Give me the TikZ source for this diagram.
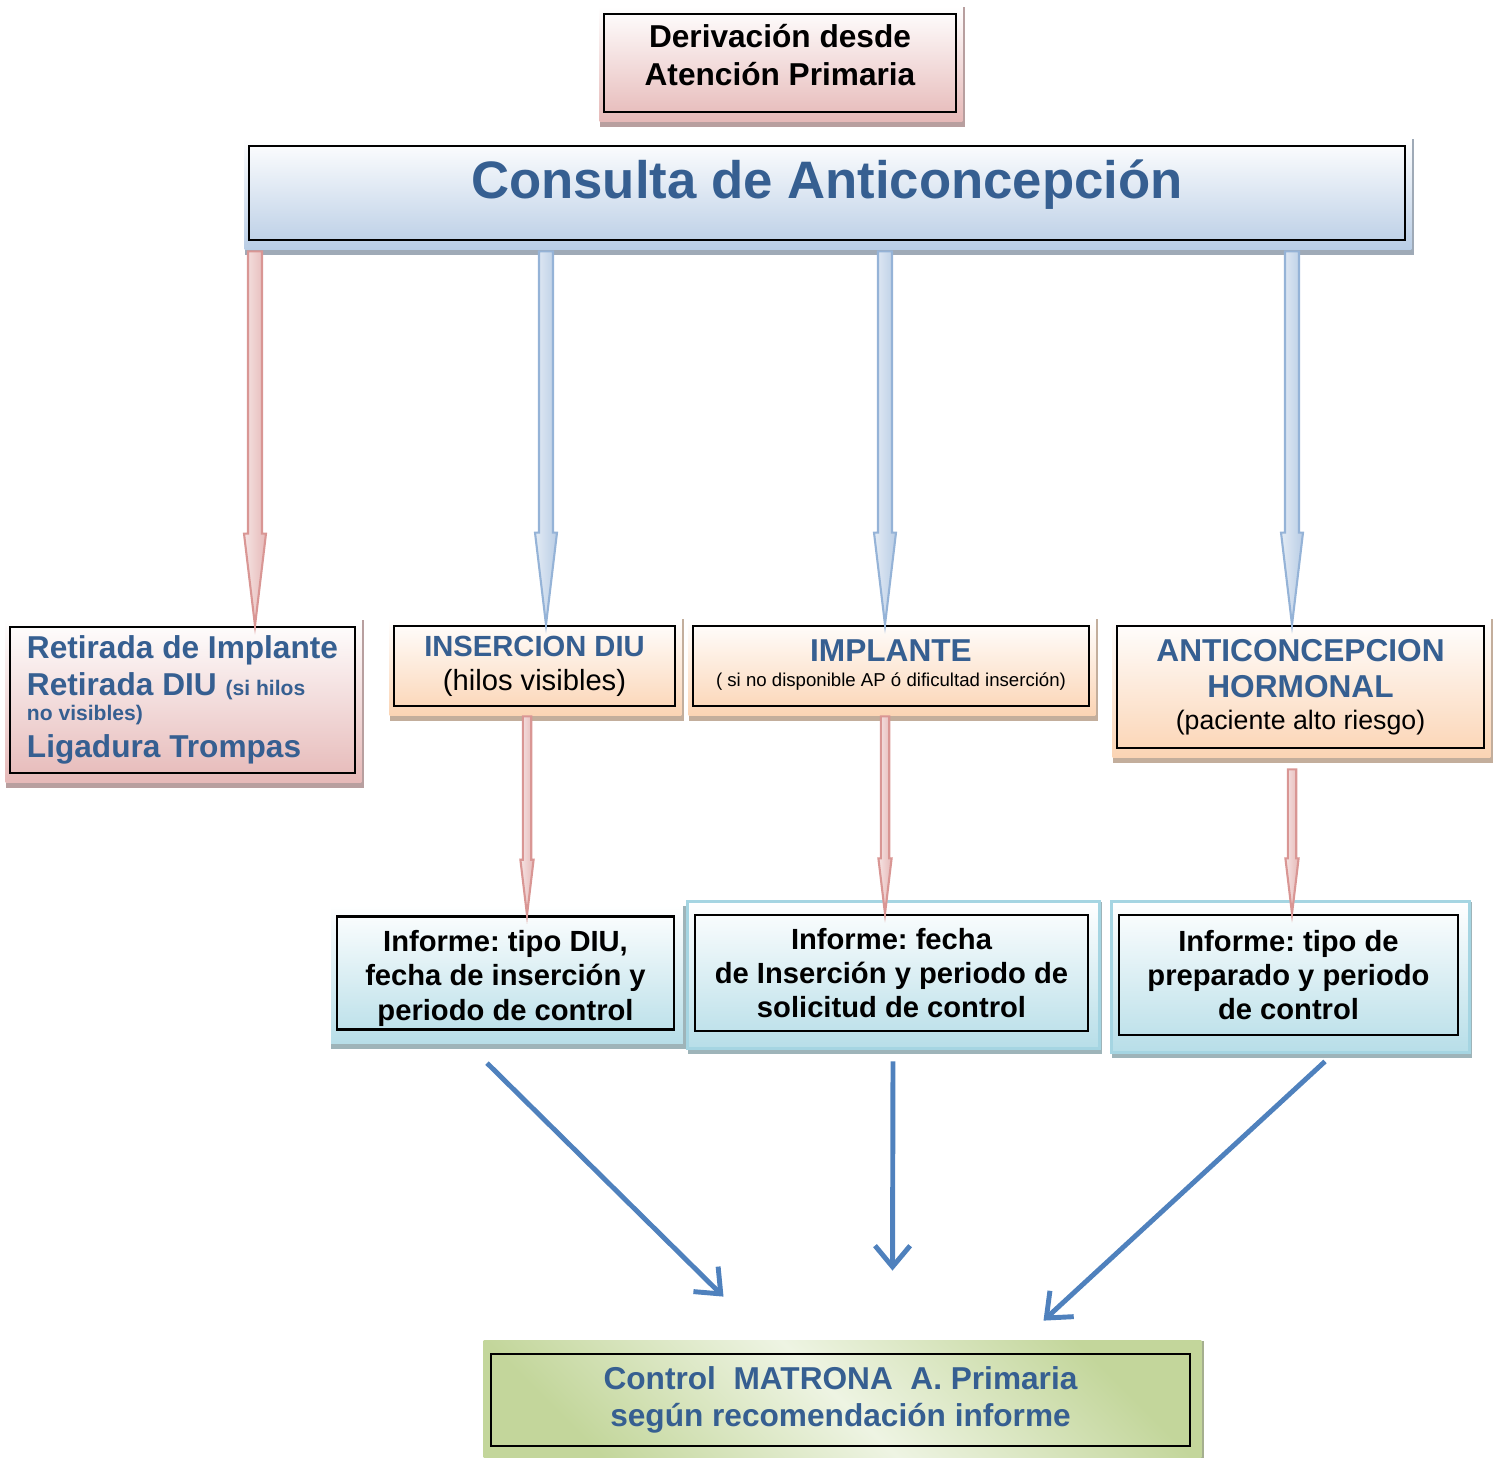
\documentclass[tikz,border=0pt]{standalone}
\usepackage{fontspec}
\setmainfont{Liberation Sans}
\frenchspacing
\usetikzlibrary{calc,backgrounds,arrows.meta}
\definecolor{txtblue}{HTML}{365F91}
\definecolor{rosa}{HTML}{E6B9B8}
\definecolor{rosaline}{HTML}{D99694}
\definecolor{celeste}{HTML}{B9CDE5}
\definecolor{celesteline}{HTML}{95B3D7}
\definecolor{melocoton}{HTML}{FBD4B4}
\definecolor{turquesa}{HTML}{B7DEE8}
\definecolor{turqline}{HTML}{A5D5E2}
\definecolor{verde}{HTML}{C3D69B}
\definecolor{verdeclaro}{HTML}{EEF4E3}
\definecolor{flecha}{HTML}{4F81BD}
\newcommand\fatarrow[4]{\filldraw[#1] let \p1=(#2), \p2=(#3) in
	(\x2-0.07cm*#4,\y1)--(\x2+0.07cm*#4,\y1)--(\x2+0.07cm*#4,\y2+0.92cm*#4)--(\x2+0.11cm*#4,\y2+0.92cm*#4)
	--(\x2,\y2)--(\x2-0.11cm*#4,\y2+0.92cm*#4)--(\x2-0.07cm*#4,\y2+0.92cm*#4)--cycle;}
\begin{document}
\begin{tikzpicture}[
	box/.style={draw=black,line width=0.8pt,inner sep=1pt,align=center},
	rosafill/.style={top color=white,bottom color=rosa},
	celestefill/.style={top color=white,bottom color=celeste},
	melofill/.style={top color=white,bottom color=melocoton},
	turqfill/.style={top color=white,bottom color=turquesa},
	turqfilltwo/.style={turqfill,draw=turqline,line width=1pt},
	verdefill/.style={top color=verde,bottom color=verde,middle color=verdeclaro,shading angle=-45},
	rojo/.style={draw=rosaline,line width=0.6pt,left color=rosa!40,right color=rosa},
	azul/.style={draw=celesteline,line width=0.6pt,left color=celeste!40,right color=celeste},
	flechaazul/.style={draw=flecha,line width=1.4pt,-{Straight Barb[length=6pt,width=10pt]}}]
	\useasboundingbox (0,0) rectangle (14.98,-14.57);
	\node[box,minimum width=3.52cm,minimum height=0.98cm,font=\bfseries\fontsize{9}{10.8}\selectfont] (deriv) at (7.80,-0.63) {Derivación desde\\Atención Primaria\rule[-0.16cm]{0pt}{0pt}};
	\node[box,minimum width=11.56cm,minimum height=0.94cm,text=txtblue,text height=0.4cm,text depth=0.3cm,font=\bfseries\fontsize{15}{18}\selectfont] (consulta) at (8.27,-1.93) {Consulta de Anticoncepción};
	\node[box,align=left,minimum width=3.45cm,minimum height=1.46cm,text=txtblue,font=\bfseries\fontsize{9}{10.5}\selectfont] (retir) at (1.825,-7.00) {Retirada de Implante\\Retirada DIU {\fontsize{6}{7}\selectfont(si hilos}\\[-3.4pt]{\fontsize{6}{7}\selectfont no visibles)}\\Ligadura Trompas};
	\node[box,minimum width=2.81cm,minimum height=0.80cm,font=\fontsize{8.3}{9.7}\selectfont] (insercion) at (5.345,-6.66) {\textcolor{txtblue}{\bfseries INSERCION DIU}\\(hilos visibles)};
	\node[box,minimum width=3.96cm,minimum height=0.80cm,font=\fontsize{9}{7}\selectfont] (implante) at (8.91,-6.66) {\textcolor{txtblue}{\bfseries IMPLANTE}\\{\fontsize{5.3}{6}\selectfont( si no disponible AP ó dificultad inserción)}\rule[-0.06cm]{0pt}{0pt}};
	\node[box,minimum width=3.67cm,minimum height=1.22cm,font=\fontsize{9}{10.2}\selectfont] (hormonal) at (13.005,-6.87) {\textcolor{txtblue}{\bfseries ANTICONCEPCION}\\\textcolor{txtblue}{\bfseries HORMONAL}\\[-1.1pt]{\fontsize{7.6}{9}\selectfont(paciente alto riesgo)}};
	\node[box,minimum width=3.37cm,minimum height=1.10cm,font=\bfseries\fontsize{8.3}{9.7}\selectfont] (infdiu) at (5.055,-9.73) {\rule{0pt}{0.32cm}Informe: tipo DIU,\\fecha de inserción y\\periodo de control};
	\node[box,minimum width=3.93cm,minimum height=1.16cm,font=\bfseries\fontsize{8.3}{9.7}\selectfont] (infimpl) at (8.915,-9.73) {Informe: fecha\\de Inserción y periodo de\\solicitud de control};
	\node[box,minimum width=3.39cm,minimum height=1.20cm,font=\bfseries\fontsize{8.3}{9.7}\selectfont] (infhorm) at (12.885,-9.75) {Informe: tipo de\\preparado y periodo\\de control};
	\node[box,minimum width=6.99cm,minimum height=0.92cm,text=txtblue,font=\bfseries\fontsize{9}{10.5}\selectfont] (control) at (8.405,-14.00) {Control~~MATRONA~~A. Primaria\\según recomendación informe};
	\begin{scope}[on background layer]
	\foreach \n/\s/\c/\m in {deriv/rosafill/rosa/1,consulta/celestefill/celeste/1,retir/rosafill/rosa/1,insercion/melofill/melocoton/1,implante/melofill/melocoton/1,hormonal/melofill/melocoton/1,infdiu/turqfill/turquesa/1.5,infimpl/turqfilltwo/turquesa/2,infhorm/turqfilltwo/turquesa/2,control/verdefill/verde/2}{
		\fill[\c!55!gray] ([shift={(-0.03*\m,-0.08*\m)}]\n.south west) rectangle ([shift={(0.05*\m+0.03,-0.08*\m-0.06)}]\n.south east);
		\fill[\c!55!gray] ([shift={(0.05*\m,0.06*\m)}]\n.north east) rectangle ([shift={(0.05*\m+0.03,-0.08*\m)}]\n.south east);
		\path[\s] ([shift={(-0.03*\m,0.06*\m)}]\n.north west) rectangle ([shift={(0.05*\m,-0.08*\m)}]\n.south east);
	}
	\end{scope}
	\fatarrow{rojo}{[yshift=-0.1cm]consulta.south}{[xshift=0.725cm]retir.north}{1}
	\fatarrow{azul}{[yshift=-0.1cm]consulta.south}{[xshift=0.115cm]insercion.north}{1}
	\fatarrow{azul}{[yshift=-0.1cm]consulta.south}{[xshift=-0.06cm]implante.north}{1}
	\fatarrow{azul}{[yshift=-0.1cm]consulta.south}{[xshift=-0.085cm]hormonal.north}{1}
	\fatarrow{rojo}{[yshift=-0.09cm]insercion.south}{[xshift=0.215cm]infdiu.north}{0.6}
	\fatarrow{rojo}{[yshift=-0.09cm]implante.south}{[xshift=-0.065cm]infimpl.north}{0.6}
	\fatarrow{rojo}{[yshift=-0.2cm]hormonal.south}{[xshift=0.035cm]infhorm.north}{0.6}
	\coordinate (fin1) at ([shift={(-1.17,0.56)}]control.north);
	\coordinate (fin2) at ([shift={(0.52,0.82)}]control.north);
	\coordinate (fin3) at ([shift={(2.03,0.32)}]control.north);
	\draw[flechaazul] ([shift={(-0.185,-0.32)}]infdiu.south) -- (fin1);
	\draw[flechaazul] ([shift={(0.015,-0.29)}]infimpl.south) -- (fin2);
	\draw[flechaazul] ([shift={(0.365,-0.25)}]infhorm.south) -- (fin3);
\end{tikzpicture}
\end{document}
